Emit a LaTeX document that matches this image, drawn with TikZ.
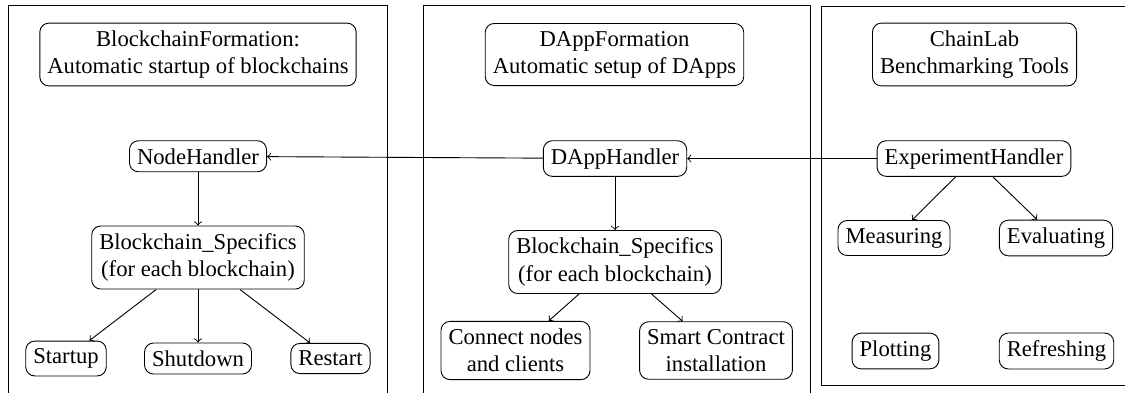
\documentclass[tikz,border=0pt]{standalone}
\usepackage{fontspec}
\setmainfont{Liberation Serif}
\begin{document}
\begin{tikzpicture}[x=0.44155pt, y=-0.44155pt,
  box/.style={draw, rounded corners=4pt, align=center},
  arr/.style={->},
  panel/.style={draw}]
\useasboundingbox (0,0) rectangle (1125,392);
\clip (0,0) rectangle (1125,392);
% panels
\draw[panel] (8,5) rectangle (387,405);
\draw[panel] (423,5) rectangle (810,405);
\draw[panel] (821,6) rectangle (1135,385);
% left panel
\node[box] (t1) at (198,54.5) {BlockchainFormation:\\Automatic startup of blockchains};
\node[box, anchor=base] (nh) at (198,164) {NodeHandler};
\node[box] (bs1) at (198,257.5) {Blockchain\_Specifics\\(for each blockchain)};
\node[box] (su) at (66,358.5) {Startup};
\node[box] (sd) at (198,358.5) {Shutdown};
\node[box] (rs) at (330.5,358.5) {Restart};
% middle panel
\node[box] (t2) at (614.5,54.5) {DAppFormation\\Automatic setup of DApps};
\node[box, anchor=base] (dh) at (615,164) {DAppHandler};
\node[box] (bs2) at (615,262) {Blockchain\_Specifics\\(for each blockchain)};
\node[box] (cn) at (515.5,350.5) {Connect nodes\\and clients};
\node[box] (sc) at (716,350.5) {Smart Contract\\installation};
% right panel
\node[box] (t3) at (974.5,54.5) {ChainLab\\Benchmarking Tools};
\node[box, anchor=base] (eh) at (974,164) {ExperimentHandler};
\node[box] (me) at (894,238) {Measuring};
\node[box] (ev) at (1056,238) {Evaluating};
\node[box] (pl) at (895.5,351) {Plotting};
\node[box] (rf) at (1056.5,351) {Refreshing};
% connectors
\draw[arr] (eh) -- (dh);
\draw[arr] (dh) -- (nh);
\draw[arr] (nh) -- (bs1);
\draw[arr] (bs1) -- (su);
\draw[arr] (bs1) -- (sd);
\draw[arr] (bs1) -- (rs);
\draw[arr] (dh) -- (bs2);
\draw[arr] (bs2) -- (cn);
\draw[arr] (bs2) -- (sc);
\draw[arr] (eh) -- (me);
\draw[arr] (eh) -- (ev);
\end{tikzpicture}
\end{document}
